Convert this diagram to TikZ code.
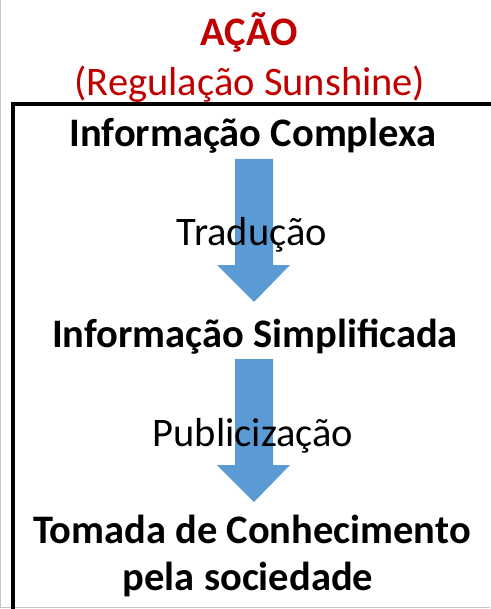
\documentclass[tikz,border=0pt]{standalone}
\usepackage{fontspec}
\setmainfont{Carlito}
\definecolor{acaored}{RGB}{192,0,0}
\definecolor{setablue}{RGB}{91,155,213}
\tikzset{
  every node/.style={inner sep=0pt, anchor=base, font=\fontsize{40.5}{47}\selectfont},
  titulo/.style={text=acaored},
  etapa/.style={font=\fontsize{40.5}{47}\selectfont\bfseries, align=center},
  seta/.style={fill=setablue},
  moldura/.style={line width=4pt, line cap=rect},
}
% seta larga apontando para baixo, a partir do topo da haste
\newcommand\setabaixo[1]{%
  \fill[seta] (#1) ++(-19,0) -- ++(38,0) -- ++(0,106) -- ++(17,0)
    -- ++(-36,37) -- ++(-37,-37) -- ++(18,0) -- cycle;
}

\begin{document}
\begin{tikzpicture}[x=1pt,y=-1pt]
\useasboundingbox (0,0) rectangle (490,609);
\draw[gray!45, line width=1pt] (0.5,0) -- (0.5,607) -- (490,607);
\draw[moldura] (490,104.5) -- (12.5,104.5) -- (12.5,612);

\coordinate (s1) at (254,159);
\coordinate (s2) at (254,359);
\setabaixo{s1}
\setabaixo{s2}

\node[titulo, font=\fontsize{40.5}{47}\selectfont\bfseries] (acao) at (249,46) {AÇÃO};
\node[titulo] (sunshine) at (250,96) {(Regulação Sunshine)};
\node[etapa] (complexa) at (253,147) {Informação Complexa};
\node (traducao) at (252,246) {Tradução};
\node[etapa] (simples) at (255,347) {Informação Simplificada};
\node (publica) at (253,446) {Publicização};
\node[etapa] (tomada) at (252,543) {Tomada de Conhecimento};
\node[etapa] (sociedade) at (248,590) {pela sociedade};
\end{tikzpicture}
\end{document}
